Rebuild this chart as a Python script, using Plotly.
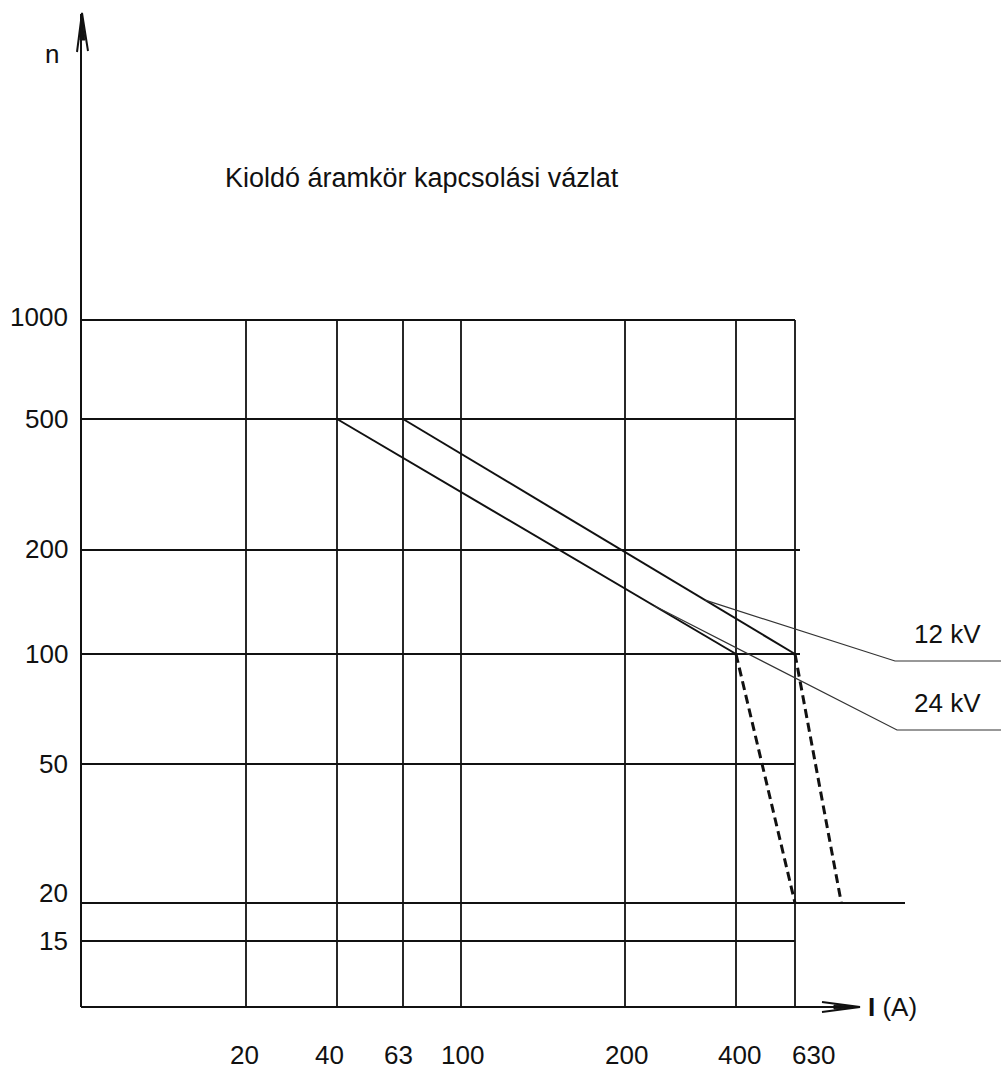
import numpy as np
import plotly.graph_objects as go

# ---------------- data ----------------
current_ticks = [20, 40, 63, 100, 200, 400, 630]
current_tick_labels = ["20", "40", "63", "100", "200", "400", "630"]
n_ticks = [1000, 500, 200, 100, 50, 20, 15]
n_tick_labels = ["1000", "500", "200", "100", "50", "20", "15"]

kv12_I = [63, 630]
kv12_n = [500, 100]
kv12_drop_I = [630, 900]
kv12_drop_n = [100, 20]

kv24_I = [40, 400]
kv24_n = [500, 100]
kv24_drop_I = [400, 630]
kv24_drop_n = [100, 20]

series_labels = ["12 kV", "24 kV"]
leader_anchor_I = [330, 240]

title_text = "Kioldó áramkör kapcsolási vázlat"
y_axis_title = "n"
x_axis_title = "<b>I</b> (A)"

# ---------------- layout / scale (schematic, non-uniform log axes) ----------------
W, H = 1001, 1073
X_TICK_PX = [246, 337, 403, 461, 625, 736, 795]
Y_TICK_PX = [320, 419, 550, 654, 764, 903, 941]
X_LABEL_SHIFT = [-2, -8, -5, 1, 1, 3, 18]
Y_LABEL_SHIFT = [3, 0, 1, 0, 0, 10, 0]
H_GRID_END_PX = [795, 795, 800, 800, 795, 905, 795]
AXIS_X = 81
AXIS_Y = 1007
LEADER_KNEE = [(895, 661), (897, 730)]
FONT = "Liberation Sans, Arial, sans-serif"
FS = 26
INK = "#111111"


def make_scale(vals, px):
    lv = np.log10(np.asarray(vals, float))
    p = np.asarray(px, float)
    o = np.argsort(lv)
    lv, p = lv[o], p[o]
    s_hi = (p[-1] - p[-2]) / (lv[-1] - lv[-2])
    s_lo = (p[1] - p[0]) / (lv[1] - lv[0])

    def f(v):
        l = np.log10(np.asarray(v, float))
        out = np.interp(l, lv, p)
        out = np.where(l > lv[-1], p[-1] + (l - lv[-1]) * s_hi, out)
        out = np.where(l < lv[0], p[0] + (l - lv[0]) * s_lo, out)
        return out
    return f


sx = make_scale(current_ticks, X_TICK_PX)
sy = make_scale(n_ticks, Y_TICK_PX)

fig = go.Figure()

# grid
gx, gy = [], []
y_top = float(sy(max(n_ticks)))
for v in current_ticks:
    xp = float(sx(v))
    gx += [xp, xp, None]
    gy += [y_top, AXIS_Y, None]
for v, xe in zip(n_ticks, H_GRID_END_PX):
    yp = float(sy(v))
    gx += [AXIS_X, xe, None]
    gy += [yp, yp, None]
fig.add_trace(go.Scatter(x=gx, y=gy, mode="lines",
                         line=dict(color=INK, width=1.8), hoverinfo="skip"))

# main curves
for I, n in [(kv12_I, kv12_n), (kv24_I, kv24_n)]:
    fig.add_trace(go.Scatter(x=sx(I), y=sy(n), mode="lines",
                             line=dict(color=INK, width=2), hoverinfo="skip"))
for I, n in [(kv12_drop_I, kv12_drop_n), (kv24_drop_I, kv24_drop_n)]:
    fig.add_trace(go.Scatter(x=sx(I), y=sy(n), mode="lines",
                             line=dict(color=INK, width=3, dash="9px,5px"),
                             hoverinfo="skip"))

# leader lines + labels
curves = [(kv12_I, kv12_n), (kv24_I, kv24_n)]
for (I, n), aI, knee, lab in zip(curves, leader_anchor_I, LEADER_KNEE, series_labels):
    ax = float(sx(aI))
    ay = float(np.interp(ax, sx(I), sy(n)))
    fig.add_trace(go.Scatter(x=[ax, knee[0], W], y=[ay, knee[1], knee[1]],
                             mode="lines", line=dict(color="#333333", width=1.2),
                             hoverinfo="skip"))
    fig.add_annotation(x=912, y=knee[1] - 27, text=lab, showarrow=False,
                       xanchor="left", yanchor="middle",
                       font=dict(family=FONT, size=FS, color=INK))

# axes with arrows
shapes = [
    dict(type="line", x0=AXIS_X, x1=AXIS_X, y0=AXIS_Y, y1=14,
         line=dict(color=INK, width=2)),
    dict(type="line", x0=AXIS_X, x1=858, y0=AXIS_Y, y1=AXIS_Y,
         line=dict(color=INK, width=2)),
    dict(type="path", path="M 77 52 L 82 13 L 88 51", line=dict(color=INK, width=2)),
    dict(type="path", path="M 80 40 L 82 14 L 85 40 Z", fillcolor=INK,
         line=dict(color=INK, width=1)),
    dict(type="path", path=f"M 822 {AXIS_Y-5} L 860 {AXIS_Y} L 822 {AXIS_Y+5}",
         line=dict(color=INK, width=2)),
    dict(type="path", path=f"M 834 {AXIS_Y-2} L 860 {AXIS_Y} L 834 {AXIS_Y+2} Z",
         fillcolor=INK, line=dict(color=INK, width=1)),
]
for s in shapes:
    s.update(xref="x", yref="y", layer="above")
fig.update_layout(shapes=shapes)

# tick labels
for v, lab, dx in zip(current_ticks, current_tick_labels, X_LABEL_SHIFT):
    fig.add_annotation(x=float(sx(v)), y=1055, text=lab, showarrow=False,
                       xanchor="center", yanchor="middle", xshift=dx,
                       font=dict(family=FONT, size=FS, color=INK))
for v, lab, dy in zip(n_ticks, n_tick_labels, Y_LABEL_SHIFT):
    fig.add_annotation(x=70, y=float(sy(v)), text=lab, showarrow=False,
                       xanchor="right", yanchor="middle", yshift=dy,
                       font=dict(family=FONT, size=FS, color=INK))

# axis titles + heading
fig.add_annotation(x=52, y=54, text=y_axis_title, showarrow=False,
                   xanchor="center", yanchor="middle",
                   font=dict(family=FONT, size=FS, color=INK))
fig.add_annotation(x=866, y=AXIS_Y, text=x_axis_title, showarrow=False,
                   xanchor="left", yanchor="middle",
                   font=dict(family=FONT, size=FS, color=INK))
fig.add_annotation(x=223, y=178, text=title_text, showarrow=False,
                   xanchor="left", yanchor="middle",
                   font=dict(family=FONT, size=FS + 1, color=INK))

fig.update_layout(
    width=W, height=H, margin=dict(l=0, r=0, t=0, b=0),
    showlegend=False, paper_bgcolor="white", plot_bgcolor="white",
    xaxis=dict(range=[0, W], visible=False, fixedrange=True),
    yaxis=dict(range=[H, 0], visible=False, fixedrange=True),
)

fig.write_html("out.html", config={"displayModeBar": False},
               post_script="document.body.style.margin='0';document.body.style.overflow='hidden';")
